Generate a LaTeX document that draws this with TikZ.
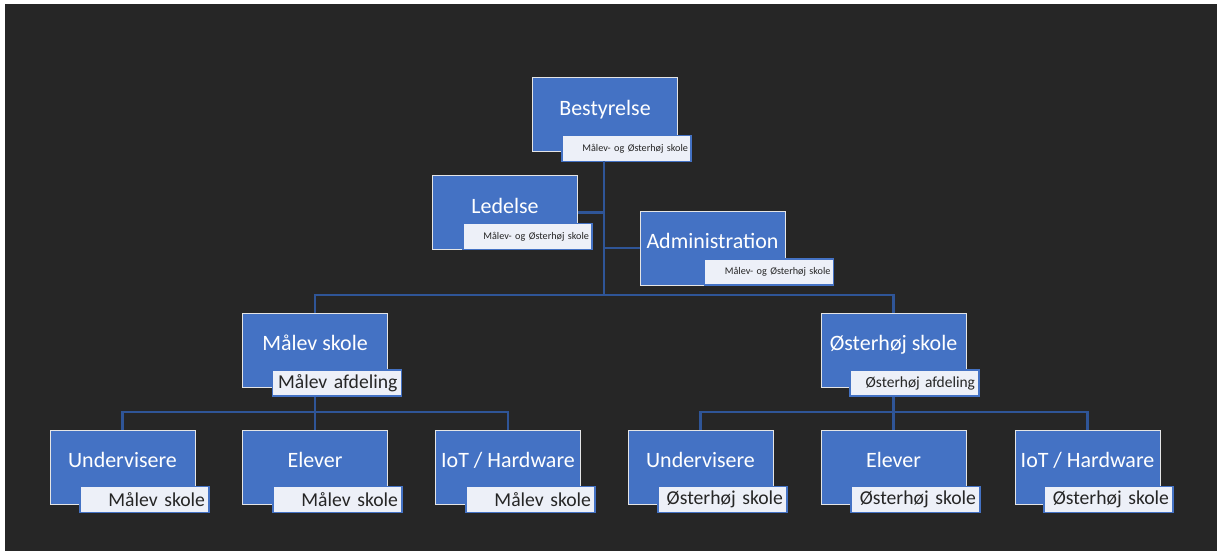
\documentclass[tikz,border=0pt]{standalone}
\usepackage{fontspec}
\setmainfont{Carlito}
\definecolor{bgdark}{HTML}{262626}
\definecolor{unitblue}{HTML}{4472C4}
\definecolor{linkblue}{HTML}{2F5597}
\definecolor{tagfill}{HTML}{EDF0F8}
\definecolor{tagtext}{HTML}{262626}
\newcommand{\tagfont}{\fontsize{11.2}{13}\selectfont\fontdimen2\font=0.16em\relax}
\newcommand{\smalltagfont}{\fontsize{8.8}{10}\selectfont\fontdimen2\font=0.16em\relax}
\begin{document}
\begin{tikzpicture}[x=0.02cm, y=-0.02cm,
  unit/.style={draw=white!90!black, line width=0.5pt, fill=unitblue, text=white, minimum width=2.9cm, minimum height=1.48cm, inner sep=0pt, font=\fontsize{12.5}{14}\selectfont, text height=8pt, text depth=7.2pt},
  tag/.style={draw=unitblue, line width=0.8pt, fill=tagfill, text=tagtext, minimum height=0.52cm, text width=2.42cm, inner xsep=0.08cm, inner ysep=0pt, align=right, font=\tagfont},
  smalltag/.style={tag, font=\smalltagfont},
  tinytag/.style={tag, text width=2.46cm, inner xsep=0.06cm, font=\fontsize{5.8}{7}\selectfont},
  link/.style={draw=linkblue, line width=1.2pt}]
\fill[white] (0,0) rectangle (1217,553);
\fill[bgdark] (5,4) rectangle (1217,551);

\node[unit] (best) at (605,114.5) {Bestyrelse};
\node[tinytag] (bestlbl) at (626.5,148.5) {Målev- og Østerhøj skole};
\node[unit] (led) at (505,212.5) {Ledelse};
\node[tinytag] (ledlbl) at (527.5,236.5) {Målev- og Østerhøj skole};
\node[unit] (adm) at (712.5,248) {Administration};
\node[tinytag] (admlbl) at (769,272) {Målev- og Østerhøj skole};

\node[unit] (mal) at (315,350) {Målev skole};
\node[tag] (mallbl) at (337,383) {Målev afdeling};
\node[unit] (ost) at (893.5,350) {Østerhøj skole};
\node[smalltag] (ostlbl) at (914.5,383) {Østerhøj afdeling};

\node[unit] (und1) at (122.5,467) {Undervisere};
\node[tag] (und1lbl) at (144.5,499.5) {Målev skole};
\node[unit] (elev1) at (315,467) {Elever};
\node[tag] (elev1lbl) at (337.5,499.5) {Målev skole};
\node[unit] (iot1) at (508,467) {IoT / Hardware};
\node[tag] (iot1lbl) at (530.5,499.5) {Målev skole};

\node[unit] (und2) at (700.5,467) {Undervisere};
\node[tag] (und2lbl) at (722.5,499.5) {Østerhøj skole};
\node[unit] (elev2) at (893.5,467) {Elever};
\node[tag] (elev2lbl) at (915.5,499.5) {Østerhøj skole};
\node[unit] (iot2) at (1087.5,467) {IoT / Hardware};
\node[tag] (iot2lbl) at (1108.5,499.5) {Østerhøj skole};

\coordinate (busT) at (604,295);
\coordinate (busM) at (315,412);
\coordinate (busO) at (893.5,412);

\draw[link] (best.south -| busT) ++(0,9) -- (busT);
\draw[link] (led.east) -- (led.east -| busT);
\draw[link] (adm.west) -- (adm.west -| busT);
\draw[link] (mal.north) |- (busT) -| (ost.north);
\draw[link] (mal.south |- mallbl.south) -- (elev1.north);
\draw[link] (ost.south |- ostlbl.south) -- (elev2.north);
\draw[link] (und1.north) |- (busM) -| (iot1.north);
\draw[link] (und2.north) |- (busO) -| (iot2.north);
\end{tikzpicture}
\end{document}
